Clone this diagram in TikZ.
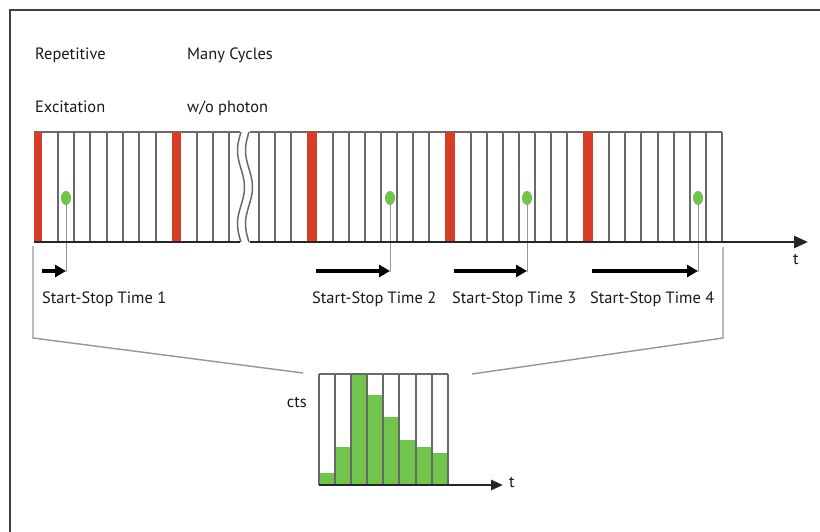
\documentclass[tikz,border=0pt]{standalone}
\usepackage{fontspec}
\setmainfont{PT Sans}
\usetikzlibrary{arrows.meta}
\definecolor{exred}{RGB}{214,62,40}
\definecolor{phgreen}{RGB}{112,198,74}
\definecolor{cellgray}{RGB}{105,105,105}
\definecolor{linkgray}{RGB}{150,150,150}
\begin{document}
\begin{tikzpicture}[x=1pt,y=-1pt,
  cellline/.style={draw=cellgray,line width=1.8pt},
  redbar/.style={fill=exred,draw=none},
  dotline/.style={draw=linkgray,line width=0.9pt},
  photon/.style={fill=phgreen,draw=none},
  timearrow/.style={line width=3.6pt,-{Triangle[length=11pt,width=12pt]}},
  axisline/.style={line width=2.6pt,black!85},
  linkline/.style={draw=linkgray,line width=1.4pt},
  txt/.style={font=\fontsize{16.4}{19}\selectfont,anchor=base west,inner sep=0pt,text=black!90},
  histbar/.style={fill=phgreen,draw=none}
]
\useasboundingbox (0,0) rectangle (820,532);
\fill[white] (0,0) rectangle (820,532);
% frame
\draw[line width=2pt,black!75] (820,10) -- (10,10) -- (10,532);

% top labels
\node[txt] (rep) at (35,60) {Repetitive};
\node[txt] (exc) at (35,113) {Excitation};
\node[txt] (many) at (187,60) {Many Cycles};
\node[txt] (wo) at (187,113) {w/o photon};

% strip top borders
\draw[draw=cellgray,line width=1.8pt] (34,132) -- (240,132);
\draw[draw=cellgray,line width=1.8pt] (250,132) -- (722,132);

% red excitation bars
\foreach \a/\b in {34/42,172/181,307/317,445/455,583/593}
  \fill[redbar] (\a,132) rectangle (\b,242);

% cell lines
\foreach \x in {58,74,90,107,123,139,156,197,213,229,
                259,275,291,333,349,365,381,397,413,429,
                471,487,503,519,535,551,567,
                609,625,641,658,674,690,706,722}
  \draw[cellline] (\x,132) -- (\x,242);

% break
\draw[draw=cellgray,line width=1.5pt] plot[domain=132:242,samples=50] ({241-3.5*sin((\x-132)*4.9)},\x);
\draw[draw=cellgray,line width=1.5pt] plot[domain=132:242,samples=50] ({249-3.5*sin((\x-132)*4.9)},\x);

% photons
\foreach \n/\x in {1/66,2/390,3/527,4/698}{
  \coordinate (dot\n) at (\x,198);
  \coordinate (stop\n) at (\x,272);
}
\foreach \n in {1,2,3,4}{
  \draw[dotline] (dot\n) -- (stop\n);
  \fill[photon] (dot\n) ellipse [x radius=5pt, y radius=7pt];
}

% time axis
\coordinate (ax0) at (34,242);
\coordinate (axb1) at (240,242);
\coordinate (axb2) at (250,242);
\coordinate (axtip) at (808,242);
\draw[axisline] (ax0) -- (axb1);
\draw[axisline,-{Triangle[length=14pt,width=12pt]}] (axb2) -- (axtip);
\node[txt] (tmain) at (793,265) {t};

% start-stop arrows
\coordinate (start1) at (42,271);
\coordinate (start2) at (316,271);
\coordinate (start3) at (454,271);
\coordinate (start4) at (592,271);
\foreach \n in {1,2,3,4}
  \draw[timearrow] (start\n) -- (stop\n |- start\n);

\node[txt] (lab1) at (42,303) {Start-Stop Time 1};
\node[txt] (lab2) at (312,303) {Start-Stop Time 2};
\node[txt] (lab3) at (452,303) {Start-Stop Time 3};
\node[txt] (lab4) at (590,303) {Start-Stop Time 4};

% link lines to histogram
\coordinate (l0) at (33,246);
\coordinate (l1) at (33,338);
\coordinate (l2) at (303,373);
\coordinate (r0) at (723,247);
\coordinate (r1) at (723,338);
\coordinate (r2) at (472,374);
\draw[linkline] (l0) -- (l1) -- (l2);
\draw[linkline] (r0) -- (r1) -- (r2);

% histogram
\foreach \a/\b/\h in {319/335/473,335/351/447,351/367/375,367/383/395,383/399/417,399/416/440,416/432/447,432/448/453}
  \fill[histbar] (\a,\h) rectangle (\b,485);
\draw[cellline] (319,374) -- (448,374);
\foreach \x in {319,335,351,367,383,399,416,432,448}
  \draw[cellline] (\x,374) -- (\x,485);
\coordinate (h0) at (319,485);
\coordinate (htip) at (503,485);
\draw[axisline,-{Triangle[length=12pt,width=10pt]}] (h0) -- (htip);
\node[txt] (thist) at (509,487) {t};
\node[txt,anchor=base east] (cts) at (307,407) {cts};
\end{tikzpicture}
\end{document}
